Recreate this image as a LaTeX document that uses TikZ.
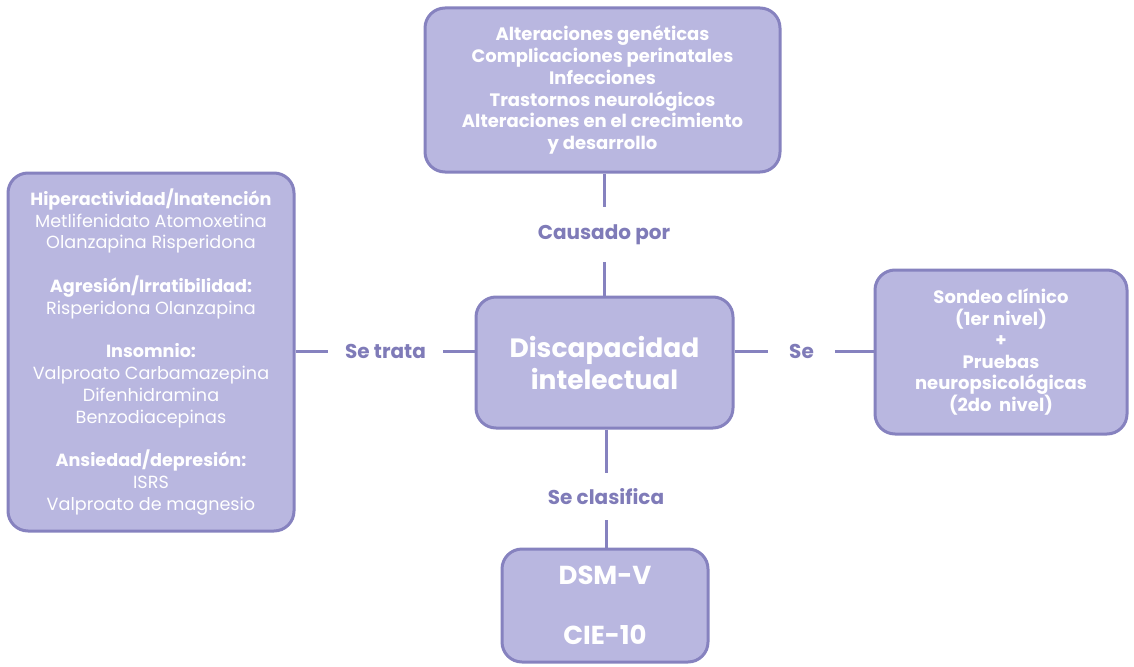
\documentclass[tikz,border=0pt]{standalone}
\usepackage{fontspec}
\setmainfont{Poppins}
\definecolor{boxfill}{HTML}{B9B7E0}
\definecolor{boxline}{HTML}{8682BF}
\definecolor{labtext}{HTML}{7F7BB8}
\begin{document}
\begin{tikzpicture}[x=1pt,y=-1pt,
  box/.style={draw=boxline, fill=boxfill, line width=3pt, rounded corners=20pt,
    text=white, align=center, inner sep=0pt},
  lab/.style={text=labtext, font=\fontsize{20}{22}\selectfont\bfseries, inner sep=0pt},
  conn/.style={draw=boxline, line width=3pt}]
\useasboundingbox (0,0) rectangle (1134,666);
% boxes
\node[box, minimum width=355pt, minimum height=164pt,
  font=\fontsize{18}{21.8}\selectfont\bfseries] (causes) at (602.5,90)
  {Alteraciones genéticas\\Complicaciones perinatales\\Infecciones\\Trastornos neurológicos\\Alteraciones en el crecimiento\\y desarrollo};
\node[box, minimum width=286pt, minimum height=358pt,
  font=\fontsize{17.6}{21.8}\selectfont] (treat) at (151,352)
  {\textbf{Hiperactividad/Inatención}\\Metlifenidato Atomoxetina\\Olanzapina Risperidona\\[21.8pt]
   \textbf{Agresión/Irratibilidad:}\\Risperidona Olanzapina\\[21.8pt]
   \textbf{Insomnio:}\\Valproato Carbamazepina\\Difenhidramina\\Benzodiacepinas\\[21.8pt]
   \textbf{Ansiedad/depresión:}\\ISRS\\Valproato de magnesio};
\node[box, minimum width=252pt, minimum height=164pt,
  font=\fontsize{18}{21.5}\selectfont\bfseries] (diag) at (1001,352)
  {Sondeo clínico\\(1er nivel)\\+\\Pruebas\\neuropsicológicas\\(2do\ \ nivel)};
\node[box, minimum width=257pt, minimum height=131pt,
  font=\fontsize{26.5}{32}\selectfont\bfseries] (center) at (604.5,362.5)
  {Discapacidad\\intelectual};
\node[box, minimum width=206pt, minimum height=113pt,
  font=\fontsize{26}{60}\selectfont\bfseries] (class) at (605,605.5)
  {DSM-V\\CIE-10};
% labels
\node[lab, minimum height=55pt] (lcause) at (604,234.5) {Causado por};
\node[lab, minimum width=115pt] (ltreat) at (385.5,351) {Se trata};
\node[lab, minimum width=67pt] (ldiag) at (801.5,351) {Se};
\node[lab, minimum height=47pt] (lclass) at (606,496.5) {Se clasifica};
% connectors
\draw[conn] (causes.south -| lcause) -- (lcause.north);
\draw[conn] (lcause.south) -- (center.north -| lcause);
\draw[conn] (treat.east |- ltreat) -- (ltreat.west);
\draw[conn] (ltreat.east) -- (center.west |- ltreat);
\draw[conn] (center.east |- ldiag) -- (ldiag.west);
\draw[conn] (ldiag.east) -- (diag.west |- ldiag);
\draw[conn] (center.south -| lclass) -- (lclass.north);
\draw[conn] (lclass.south) -- (class.north -| lclass);
\end{tikzpicture}
\end{document}
